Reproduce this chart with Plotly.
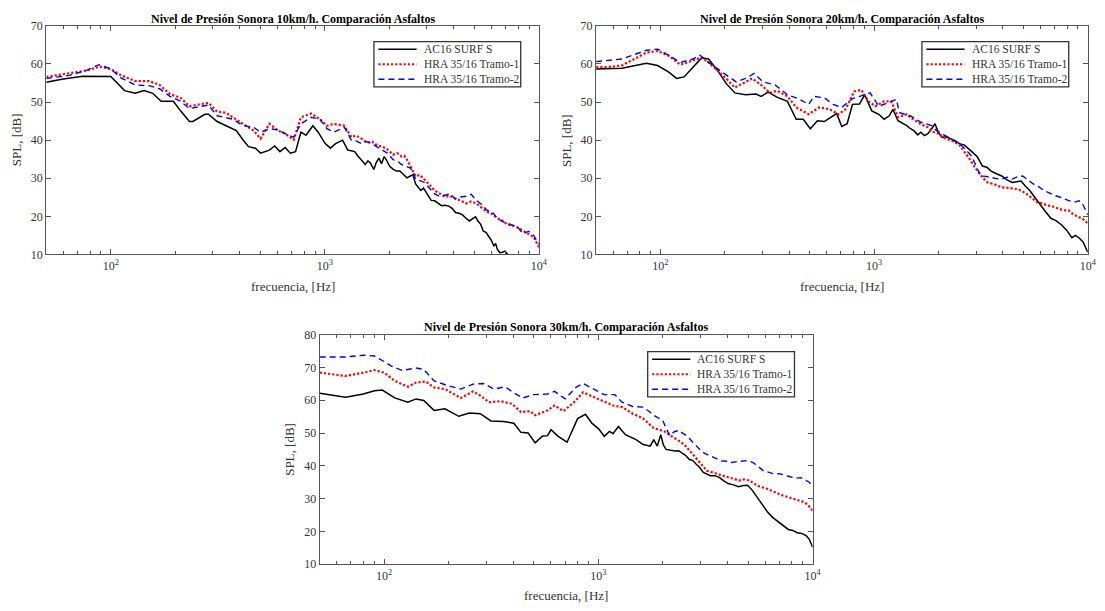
import plotly.graph_objects as go

# ---------------- data ----------------
# 10 km/h
f10_ac = [50, 59, 74, 100, 116, 130, 143, 157, 172, 196, 212, 233, 242, 275, 286, 314, 358, 386, 416, 440, 474,
          501, 551, 583, 617, 653, 690, 730, 773, 817, 880, 931, 1004, 1062, 1123, 1211, 1280, 1380, 1420, 1460,
          1500, 1544, 1590, 1633, 1694, 1740, 1791, 1840, 1895, 1950, 2004, 2080, 2160, 2240, 2328, 2420, 2510,
          2580, 2655, 2730, 2808, 2890, 2970, 3050, 3141, 3260, 3385, 3510, 3648, 3790, 3931, 4080, 4237, 4400,
          4566, 4740, 4921, 5060, 5204, 5350, 5504, 5660, 5821, 5990, 6157, 6280, 6393, 6570, 6761, 6950, 7150,
          7600]
spl10_ac = [55.2, 56.0, 56.8, 56.7, 53.0, 52.3, 53.0, 52.3, 50.2, 50.2, 47.7, 44.9, 44.9, 46.8, 46.8, 44.9, 43.4,
            42.5, 40.0, 38.3, 37.9, 36.6, 37.4, 38.5, 37.0, 38.1, 36.6, 37.0, 42.1, 41.3, 43.8, 42.1, 39.1, 37.9,
            39.1, 40.0, 37.4, 37.0, 36.0, 35.3, 34.5, 33.6, 34.6, 34.0, 32.3, 34.2, 35.3, 33.8, 35.7, 34.6, 33.2,
            32.4, 31.9, 31.9, 31.0, 30.1, 30.6, 30.9, 28.5, 27.5, 26.8, 27.4, 26.4, 25.6, 24.2, 24.1, 23.4, 22.8,
            22.9, 22.7, 22.1, 21.0, 20.8, 20.4, 19.5, 18.8, 19.5, 19.9, 18.7, 17.9, 16.1, 15.8, 14.8, 13.8, 12.3,
            12.9, 11.4, 10.5, 10.6, 10.9, 10.0, 9.0]
f10_t1 = [50, 64, 77, 89, 100, 112, 130, 151, 169, 189, 212, 233, 265, 286, 314, 345, 372, 416, 465, 501, 551,
          605, 653, 716, 773, 863, 948, 1023, 1102, 1233, 1330, 1400, 1486, 1570, 1663, 1760, 1862, 1960, 2084,
          2180, 2286, 2350, 2420, 2530, 2655, 2780, 2917, 3080, 3259, 3450, 3648, 3850, 4076, 4300, 4566, 4830,
          5104, 5400, 5715, 6050, 6393, 6760, 7150, 7560, 8000, 8450, 8950, 9450, 10000]
spl10_t1 = [56.6, 57.5, 58.3, 59.3, 58.7, 57.0, 55.5, 55.5, 54.5, 52.1, 51.1, 48.9, 49.4, 49.8, 47.5, 47.2, 46.0,
            44.3, 42.5, 40.4, 44.3, 42.5, 41.7, 40.1, 46.0, 47.0, 45.5, 43.8, 44.3, 43.8, 40.8, 41.2, 40.4, 39.4,
            39.6, 38.6, 38.3, 37.6, 36.2, 36.6, 35.7, 35.9, 34.9, 32.8, 30.6, 30.9, 29.8, 28.3, 26.8, 26.0, 25.1,
            25.4, 24.6, 24.2, 23.4, 23.9, 23.4, 22.3, 21.2, 20.6, 19.5, 18.9, 17.8, 17.6, 17.0, 16.2, 15.3, 14.6,
            11.9]
f10_t2 = [50, 64, 77, 88, 100, 112, 130, 151, 169, 189, 212, 233, 265, 286, 314, 345, 372, 416, 465, 501, 551,
          605, 653, 716, 773, 863, 948, 1023, 1102, 1233, 1330, 1400, 1486, 1570, 1663, 1760, 1862, 1960, 2084,
          2180, 2286, 2400, 2510, 2580, 2655, 2780, 2917, 3080, 3259, 3450, 3648, 3850, 4076, 4300, 4566, 4830,
          5104, 5400, 5715, 6050, 6393, 6760, 7150, 7560, 8000, 8450, 8950, 9450, 10000]
spl10_t2 = [56.2, 57.0, 58.3, 59.8, 58.7, 56.3, 54.5, 54.3, 53.5, 51.5, 50.2, 48.3, 48.9, 49.2, 46.4, 46.0, 45.5,
            43.8, 43.4, 42.1, 43.0, 42.7, 41.7, 40.8, 44.3, 46.0, 45.5, 43.0, 42.1, 43.4, 40.0, 39.8, 39.1, 39.6,
            39.1, 38.2, 37.4, 36.6, 34.9, 34.5, 33.6, 33.2, 32.7, 31.8, 29.8, 29.4, 28.9, 27.4, 25.9, 25.2, 25.5,
            25.9, 24.6, 25.1, 25.3, 25.8, 24.2, 23.1, 21.6, 21.2, 19.5, 18.6, 18.2, 17.6, 17.0, 15.4, 16.1, 15.0,
            12.7]

# 20 km/h
f20_ac = [50, 66, 86, 97, 109, 119, 129, 142, 156, 168, 185, 203, 223, 250, 280, 296, 319, 351, 393, 432, 466,
          503, 543, 585, 631, 668, 706, 748, 792, 855, 904, 975, 1052, 1114, 1178, 1224, 1294, 1422, 1480, 1535,
          1600, 1655, 1720, 1786, 1850, 1927, 2000, 2078, 2180, 2284, 2400, 2511, 2650, 2813, 2920, 3034, 3120,
          3213, 3370, 3530, 3740, 3954, 4190, 4429, 4650, 4870, 5100, 5354, 5670, 5997, 6350, 6718, 7100, 7524,
          7960, 8427, 8750, 9092, 9500, 10000]
spl20_ac = [58.7, 58.9, 60.2, 59.6, 57.9, 56.2, 56.6, 59.2, 61.6, 61.3, 58.3, 54.9, 52.4, 51.9, 52.1, 51.5, 52.6,
            51.3, 50.2, 45.5, 45.5, 43.0, 45.1, 44.9, 46.0, 47.0, 43.6, 44.3, 49.4, 49.5, 51.9, 47.7, 46.8, 45.5,
            46.4, 48.1, 45.1, 43.8, 43.0, 42.5, 41.4, 42.1, 41.2, 41.7, 42.8, 44.3, 42.0, 40.8, 40.9, 40.4, 39.8,
            39.1, 38.7, 37.4, 36.6, 35.7, 34.5, 33.2, 32.9, 31.9, 31.2, 30.6, 29.6, 28.9, 29.1, 29.3, 28.0, 26.8,
            24.9, 22.9, 21.2, 19.5, 18.9, 17.8, 16.4, 14.4, 15.0, 14.4, 13.3, 10.6]
f20_t1 = [50, 57, 66, 86, 97, 109, 124, 142, 156, 168, 185, 203, 223, 250, 269, 296, 325, 351, 393, 432, 494,
          553, 620, 681, 735, 807, 871, 940, 1014, 1114, 1202, 1294, 1422, 1510, 1595, 1690, 1786, 1890, 2000,
          2120, 2243, 2370, 2511, 2650, 2813, 2950, 3090, 3240, 3404, 3670, 3954, 4270, 4607, 4880, 5164, 5470,
          5780, 6120, 6471, 6850, 7245, 7670, 8123, 8520, 8933, 9450, 10000]
spl20_t1 = [59.2, 59.2, 59.6, 63.0, 63.4, 62.2, 59.8, 60.9, 61.7, 60.4, 58.3, 56.2, 53.8, 55.3, 56.2, 54.5, 52.4,
            53.0, 51.5, 48.6, 46.8, 48.6, 48.1, 46.8, 48.1, 52.8, 53.2, 50.2, 48.9, 50.2, 50.2, 46.0, 46.8, 45.6,
            44.7, 44.0, 43.4, 42.2, 41.7, 40.6, 40.0, 39.6, 38.7, 37.0, 34.9, 33.0, 31.5, 30.0, 28.9, 28.4, 27.6,
            27.5, 27.2, 26.8, 25.9, 24.9, 23.8, 23.4, 22.9, 22.6, 22.1, 21.6, 21.6, 20.6, 20.0, 19.4, 18.2]
f20_t2 = [50, 66, 86, 97, 109, 124, 142, 153, 168, 185, 206, 226, 250, 275, 302, 344, 393, 441, 494, 523, 585,
          643, 706, 792, 855, 958, 1052, 1156, 1272, 1313, 1478, 1560, 1655, 1750, 1858, 1960, 2078, 2200, 2327,
          2460, 2605, 2740, 2870, 3000, 3155, 3340, 3530, 3740, 3954, 4190, 4429, 4690, 4962, 5250, 5559, 5890,
          6233, 6600, 6985, 7390, 7818, 8280, 8757, 9100, 9434, 10000]
spl20_t2 = [60.6, 61.3, 63.6, 63.9, 62.3, 60.4, 61.3, 62.3, 60.4, 58.7, 57.0, 55.3, 56.2, 57.5, 55.3, 54.5, 51.9,
            50.9, 49.4, 51.5, 51.1, 49.4, 48.6, 50.9, 51.5, 52.4, 48.9, 49.8, 50.7, 47.2, 46.4, 45.6, 44.7, 44.3,
            43.8, 42.5, 41.7, 40.9, 40.0, 39.3, 38.3, 37.0, 35.7, 33.2, 30.6, 30.5, 30.2, 29.9, 29.8, 30.3, 29.8,
            30.4, 30.6, 29.5, 28.5, 27.8, 26.8, 26.2, 25.5, 25.1, 24.6, 24.0, 23.8, 24.1, 23.4, 20.4]

# 30 km/h
f30_ac = [50, 66, 80, 90, 98, 112, 129, 141, 153, 171, 192, 223, 250, 281, 315, 360, 403, 435, 470, 507, 547, 579,
          601, 649, 714, 756, 800, 870, 932, 1005, 1064, 1127, 1170, 1240, 1337, 1499, 1560, 1618, 1680, 1746,
          1812, 1883, 1955, 2010, 2070, 2170, 2278, 2370, 2459, 2550, 2653, 2760, 2863, 2970, 3089, 3210, 3332,
          3500, 3665, 3850, 4032, 4270, 4518, 4740, 4973, 5220, 5471, 5790, 6132, 6500, 6872, 7280, 7702, 8080,
          8478, 8900, 9326, 9650, 10000]
spl30_ac = [62.1, 60.9, 61.9, 62.9, 63.1, 60.7, 59.4, 60.4, 59.9, 56.9, 57.4, 55.1, 56.1, 55.9, 53.7, 53.5, 53.0,
            50.2, 50.0, 47.0, 49.0, 49.2, 51.0, 49.0, 47.2, 51.0, 54.4, 55.7, 53.0, 51.2, 49.0, 50.5, 49.8, 52.0,
            49.5, 48.0, 47.2, 46.5, 46.3, 46.0, 48.0, 46.0, 49.5, 46.4, 45.0, 44.8, 44.5, 44.6, 44.0, 43.2, 42.0,
            41.6, 40.5, 39.5, 38.0, 37.4, 37.0, 37.0, 36.5, 35.4, 34.6, 34.2, 33.6, 34.0, 34.1, 32.6, 30.6, 28.3,
            26.1, 24.3, 23.1, 22.0, 20.6, 20.3, 19.6, 19.4, 18.7, 17.6, 15.2]
f30_t1 = [50, 66, 80, 90, 100, 112, 129, 141, 156, 171, 192, 228, 260, 281, 309, 350, 395, 435, 479, 507, 579,
          624, 687, 770, 848, 951, 1064, 1170, 1289, 1445, 1530, 1618, 1710, 1812, 1920, 2031, 2150, 2278, 2410,
          2557, 2700, 2863, 3030, 3207, 3400, 3597, 3810, 4032, 4270, 4518, 4790, 5069, 5370, 5687, 6020, 6369,
          6750, 7143, 7570, 8013, 8480, 8974, 9480, 10000]
spl30_t1 = [68.4, 67.4, 68.4, 69.2, 68.4, 65.9, 64.1, 65.4, 65.7, 63.9, 63.4, 60.7, 62.7, 61.4, 59.4, 59.7, 58.9,
            56.4, 56.7, 55.4, 56.9, 58.4, 56.7, 59.4, 62.4, 60.9, 59.4, 58.4, 57.9, 55.9, 55.2, 54.4, 53.0, 51.5,
            51.0, 50.5, 49.4, 48.5, 47.4, 46.0, 44.2, 42.5, 40.4, 38.5, 38.0, 37.5, 36.8, 36.5, 36.1, 35.5, 35.9,
            35.5, 34.5, 33.6, 33.2, 32.6, 31.8, 31.1, 30.6, 30.1, 29.6, 29.1, 28.2, 26.3]
f30_t2 = [50, 66, 80, 90, 100, 108, 121, 141, 153, 171, 199, 228, 260, 291, 326, 366, 411, 444, 498, 579, 624,
          700, 785, 848, 951, 1064, 1193, 1289, 1445, 1618, 1710, 1812, 1900, 1994, 2070, 2156, 2260, 2373, 2490,
          2607, 2730, 2864, 2975, 3089, 3210, 3332, 3530, 3740, 3960, 4192, 4440, 4697, 4980, 5271, 5580, 5902,
          6250, 6622, 7010, 7429, 7860, 8318, 8810, 9326, 9650, 10000]
spl30_t2 = [73.2, 73.2, 73.7, 73.5, 71.8, 70.4, 69.1, 69.8, 69.4, 65.9, 64.4, 63.4, 64.9, 65.1, 63.4, 64.1, 61.9,
            60.7, 61.7, 61.9, 62.7, 60.4, 63.9, 65.1, 63.4, 61.7, 61.7, 59.4, 58.1, 57.9, 56.8, 55.4, 54.6, 53.9,
            51.5, 49.2, 50.4, 50.8, 49.8, 49.0, 47.5, 46.0, 45.0, 44.0, 43.5, 43.0, 42.2, 41.5, 41.4, 41.0, 41.3,
            41.5, 41.6, 41.0, 39.6, 38.5, 38.0, 37.5, 37.6, 37.2, 36.6, 36.2, 36.4, 35.5, 35.0, 33.6]

series_names = ["AC16 SURF S", "HRA 35/16 Tramo-1", "HRA 35/16 Tramo-2"]
titles = ["Nivel de Presión Sonora 10km/h. Comparación Asfaltos",
          "Nivel de Presión Sonora 20km/h. Comparación Asfaltos",
          "Nivel de Presión Sonora 30km/h. Comparación Asfaltos"]
x_label = "frecuencia, [Hz]"
y_label = "SPL, [dB]"
y_ranges = [[10, 70], [10, 70], [10, 80]]
x_major = [100, 1000, 10000]
x_major_text = ["10<sup>2</sup>", "10<sup>3</sup>", "10<sup>4</sup>"]
x_minor = [60, 70, 80, 90, 200, 300, 400, 500, 600, 700, 800, 900,
           2000, 3000, 4000, 5000, 6000, 7000, 8000, 9000]

panels = [
    [(f10_ac, spl10_ac), (f10_t1, spl10_t1), (f10_t2, spl10_t2)],
    [(f20_ac, spl20_ac), (f20_t1, spl20_t1), (f20_t2, spl20_t2)],
    [(f30_ac, spl30_ac), (f30_t1, spl30_t1), (f30_t2, spl30_t2)],
]

# ---------------- layout ----------------
W, H = 1105, 611
FONT = "Liberation Serif, Times New Roman, serif"
AX = "#555555"
TXT = "#333333"

# plot-area rectangles in pixels: left, right, top, bottom
rects = [(46.7, 543.3, 19.3, 253.3), (601, 1096.7, 19.3, 253.3), (322.3, 819.3, 335.3, 570.3)]
# legend boxes in pixels: left, right, top, bottom
legend_boxes = [(377, 525, 35.5, 81.7), (929.5, 1077.5, 35.5, 81.7), (653, 801, 352.7, 399)]

styles = [dict(color="#000000", width=1.5, dash="solid"),
          dict(color="#ff0000", width=2.2, dash="2.2px,2px"),
          dict(color="#0000ff", width=1.4, dash="6px,4px")]


def px(x):
    return x / W


def py(y):
    return 1 - y / H


fig = go.Figure()
layout = dict(width=W, height=H, margin=dict(l=0, r=0, t=0, b=0),
              paper_bgcolor="white", plot_bgcolor="white",
              font=dict(family=FONT, size=12, color=TXT), showlegend=False)
annotations = []
shapes = []

for i, (rect, data) in enumerate(zip(rects, panels)):
    l, r, t, b = rect
    xa = "xaxis" if i == 0 else f"xaxis{i+1}"
    ya = "yaxis" if i == 0 else f"yaxis{i+1}"
    xref = "x" if i == 0 else f"x{i+1}"
    yref = "y" if i == 0 else f"y{i+1}"
    for j, (fx, vy) in enumerate(data):
        fig.add_trace(go.Scatter(x=fx, y=vy, mode="lines", name=series_names[j],
                                 line=styles[j], xaxis=xref, yaxis=yref,
                                 hoverinfo="skip"))
    layout[xa] = dict(type="log", range=[1.69897, 4], domain=[px(l), px(r)], anchor=yref,
                      showgrid=False, zeroline=False, showline=True, linecolor=AX, linewidth=1.2,
                      mirror="ticks", ticks="inside", ticklen=5, tickcolor=AX, tickwidth=1,
                      tickvals=x_major, ticktext=x_major_text,
                      minor=dict(ticks="inside", ticklen=3, tickcolor=AX, tickvals=x_minor),
                      tickfont=dict(family=FONT, size=12, color=TXT))
    layout[ya] = dict(range=y_ranges[i], domain=[py(b), py(t)], anchor=xref,
                      showgrid=False, zeroline=False, showline=True, linecolor=AX, linewidth=1.2,
                      mirror="ticks", ticks="inside", ticklen=5, tickcolor=AX, tickwidth=1, dtick=10,
                      tickfont=dict(family=FONT, size=12, color=TXT))
    cx = (l + r) / 2
    annotations.append(dict(text="<b>" + titles[i] + "</b>", x=px(cx), y=py(t - 7.5),
                            xref="paper", yref="paper", showarrow=False, xanchor="center",
                            yanchor="middle", font=dict(family=FONT, size=12, color="#000000")))
    annotations.append(dict(text=x_label, x=px(cx), y=py(b + 32.5), xref="paper", yref="paper",
                            showarrow=False, xanchor="center", yanchor="middle",
                            font=dict(family=FONT, size=13, color=TXT)))
    annotations.append(dict(text=y_label, x=px(l - 30.5), y=py((t + b) / 2), xref="paper",
                            yref="paper", showarrow=False, xanchor="center", yanchor="middle",
                            textangle=-90, font=dict(family=FONT, size=13, color=TXT)))

    # legend box (drawn like the reference's boxed legend)
    bl, br, bt, bb = legend_boxes[i]
    shapes.append(dict(type="rect", xref="paper", yref="paper", x0=px(bl), x1=px(br),
                       y0=py(bb), y1=py(bt), line=dict(color="#333333", width=1.3),
                       fillcolor="white", layer="above"))
    row_h = (bb - bt) / 3
    for j in range(3):
        yc = bt + row_h * (j + 0.5)
        shapes.append(dict(type="line", xref="paper", yref="paper", x0=px(bl + 4.5), x1=px(bl + 43),
                           y0=py(yc), y1=py(yc), line=styles[j], layer="above"))
        annotations.append(dict(text=series_names[j], x=px(bl + 48), y=py(yc), xref="paper",
                                yref="paper", showarrow=False, xanchor="left", yanchor="middle",
                                font=dict(family=FONT, size=11.5, color=TXT)))

layout["annotations"] = annotations
layout["shapes"] = shapes
fig.update_layout(**layout)
fig.write_html("out.html", config={"displayModeBar": False},
               post_script="document.body.style.margin='0px';document.body.style.overflow='hidden';")
